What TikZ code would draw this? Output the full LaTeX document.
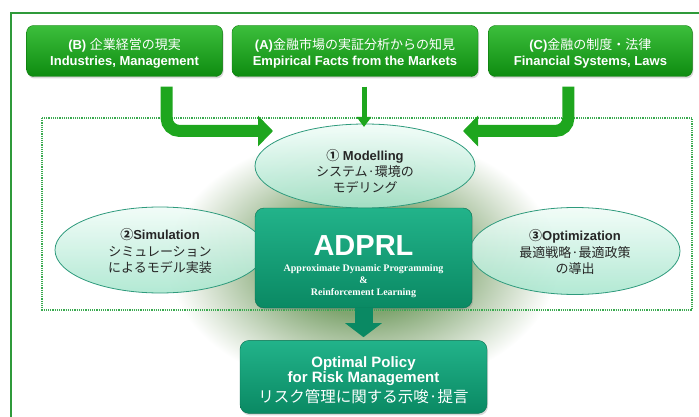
\documentclass[tikz,border=0pt]{standalone}
\usepackage{fontspec}
\setmainfont{Liberation Sans}
\newfontfamily\jpfont{Noto Sans CJK JP}
\newfontfamily\seriffont{Liberation Serif}
\usepackage{tikz}
\usetikzlibrary{arrows.meta,positioning,shapes.geometric,shadows}

\definecolor{frameGreen}{HTML}{2F9A3A}
\definecolor{dotGreen}{HTML}{3AAA50}
\definecolor{srcTop}{HTML}{3CBE3C}
\definecolor{srcBot}{HTML}{0E8C10}
\definecolor{srcEdge}{HTML}{0B7A0B}
\definecolor{arrowGreen}{HTML}{1EA61E}
\definecolor{coreTop}{HTML}{22B38A}
\definecolor{coreBot}{HTML}{0A8963}
\definecolor{coreEdge}{HTML}{07704F}
\definecolor{stageTop}{HTML}{F0FCF7}
\definecolor{stageBot}{HTML}{A8E6CE}
\definecolor{stageEdge}{HTML}{2E9A7C}
\definecolor{glowGreen}{RGB}{128,165,112}

\pgfdeclareradialshading{adprlglow}{\pgfpoint{0bp}{0bp}}{color(0bp)=(glowGreen); color(10bp)=(glowGreen); color(25bp)=(white); color(50bp)=(white)}

\begin{document}
\begin{tikzpicture}[
			x=1pt, y=-1pt,
			srcbox/.style={draw=srcEdge,rounded corners=7pt,top color=srcTop,bottom color=srcBot,text=white,align=center,minimum height=51pt,inner sep=2pt,font=\fontsize{13}{16}\selectfont,drop shadow={shadow xshift=1pt,shadow yshift=-2pt,opacity=.3}},
			stage/.style={ellipse,draw=stageEdge,thick,top color=stageTop,bottom color=stageBot,fill opacity=.88,text opacity=1,text=black!85,align=center,inner sep=0pt,font=\fontsize{13}{16}\selectfont},
			core/.style={draw=coreEdge,rounded corners=9pt,top color=coreTop,bottom color=coreBot,text=white,align=center,inner sep=2pt,drop shadow={shadow xshift=1pt,shadow yshift=-2pt,opacity=.3}},
			feed/.style={draw=arrowGreen,line width=12pt,rounded corners=13pt,-{Triangle[width=30pt,length=15pt]}},
			thinfeed/.style={draw=arrowGreen,line width=5pt,-{Triangle[width=14pt,length=10pt]}},
			down/.style={draw=coreBot,line width=18pt,-{Triangle[width=36pt,length=14pt]}}
			]
			\useasboundingbox (0,0) rectangle (699,417);
			\clip (0,0) rectangle (699,417);
			% frames and glow
			\draw[frameGreen,line width=1.5pt] (11,13) rectangle (720,440);
			\shade[shading=adprlglow] (363,262) ellipse [x radius=195, y radius=130];
			\draw[dotGreen,densely dotted,line width=1.2pt] (42,118) rectangle (692,310);
			% sources
			\node[srcbox, minimum width=246pt] (A) at (355,51) {\rule{0pt}{16pt}\textbf{(A)}{\jpfont 金融市場の実証分析からの知見}\\\textbf{Empirical Facts from the Markets}};
			\node[srcbox, minimum width=196pt, left=9pt of A] (B) {\rule{0pt}{16pt}\textbf{(B)} {\jpfont 企業経営の現実}\\\textbf{Industries, Management}};
			\node[srcbox, minimum width=204pt, right=10pt of A] (C) {\rule{0pt}{16pt}\textbf{(C)}{\jpfont 金融の制度・法律}\\\textbf{Financial Systems, Laws}};
			% stages
			\node[stage, minimum width=220pt, minimum height=84pt] (model) at (365,166) {\rule{0pt}{22pt}\textbf{{\jpfont ①} Modelling}\\{\jpfont システム·環境の}\\{\jpfont モデリング}};
			\node[stage, minimum width=210pt, minimum height=86pt] (sim) at (160,250) {\rule{0pt}{14pt}\textbf{{\jpfont ②}Simulation}\\[1pt]{\jpfont シミュレーション}\\{\jpfont によるモデル実装}};
			\node[stage, minimum width=210pt, minimum height=87pt] (opt) at (575,251) {\rule{0pt}{14pt}\textbf{{\jpfont ③}Optimization}\\[1pt]{\jpfont 最適戦略·最適政策}\\{\jpfont の導出}};
			% core and result
			\node[core, minimum width=217pt, minimum height=100pt] (adprl) at (363.5,258) {\rule{0pt}{38pt}\fontsize{29}{30}\selectfont\bfseries ADPRL\\[4pt]\seriffont\bfseries\fontsize{10}{12}\selectfont Approximate Dynamic Programming\\\seriffont\bfseries\fontsize{10}{12}\selectfont\&\\\seriffont\bfseries\fontsize{10}{12}\selectfont Reinforcement Learning};
			\node[core, minimum width=247pt, minimum height=73pt, below=32pt of adprl] (policy) {\rule{0pt}{17pt}\fontsize{15}{17}\selectfont\bfseries Optimal Policy\\\fontsize{15}{17}\selectfont\bfseries for Risk Management\\[3pt]{\jpfont\fontsize{15.5}{18}\selectfont リスク管理に関する示唆·提言}};
			\coordinate (leftIn) at (273,131);
			\coordinate (rightIn) at (463,131);
			\coordinate (midIn) at (364,127);
			\draw[feed] ([xshift=42pt,yshift=-10pt]B.south) |- (leftIn);
			\draw[feed] ([xshift=-22pt,yshift=-10pt]C.south) |- (rightIn);
			\draw[thinfeed] ([xshift=9pt,yshift=-10pt]A.south) -- (midIn);
			\draw[down] (adprl.south) -- ([yshift=3pt]policy.north);
		\end{tikzpicture}
\end{document}
